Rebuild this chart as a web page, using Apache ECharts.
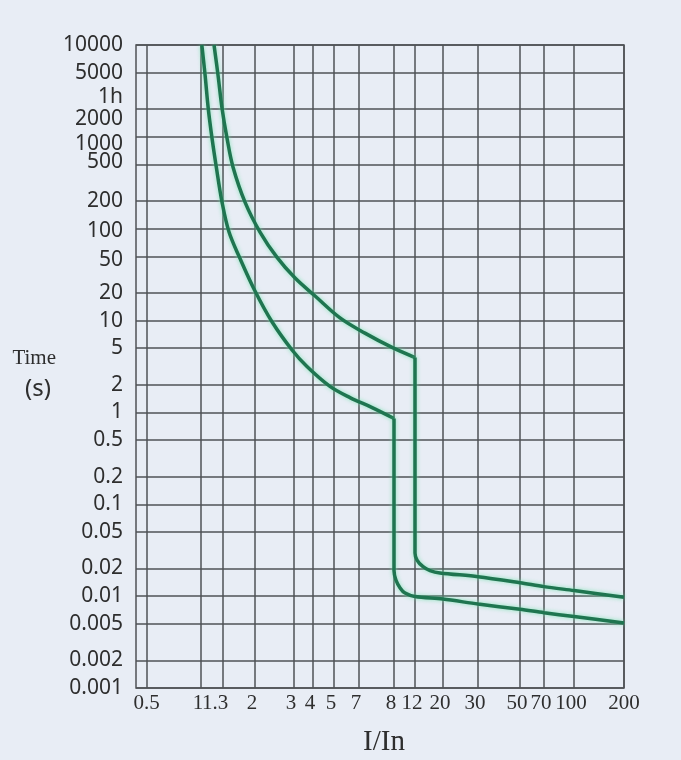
<!DOCTYPE html>
<html>
<head>
<meta charset="utf-8">
<script src="https://cdn.jsdelivr.net/npm/echarts@6/dist/echarts.min.js"></script>
<style>
html,body{margin:0;padding:0;background:#e8edf5;}
#chart{width:681px;height:760px;}
</style>
</head>
<body>
<div id="chart"></div>
<script>
// ---------- data ----------
const xTickValues = [0.5, 1, 1.3, 2, 3, 4, 5, 7, 8, 12, 20, 30, 50, 70, 100, 200];
const xTickLabels = ['0.5', '1', '1.3', '2', '3', '4', '5', '7', '8', '12', '20', '30', '50', '70', '100', '200'];

const yTickValues = [0.001, 0.002, 0.005, 0.01, 0.02, 0.05, 0.1, 0.2, 0.5, 1, 2, 5, 10, 20, 50, 100, 200, 500, 1000, 2000, 5000, 10000];
const yTickLabels = ['0.001', '0.002', '0.005', '0.01', '0.02', '0.05', '0.1', '0.2', '0.5', '1', '2', '5', '10', '20', '50', '100', '200', '500', '1000', '2000', '5000', '10000'];
const hourValue = 3600;
const hourLabel = '1h';

// lower curve (I/In, time in s)
const lowerCurveI = [1.01, 1.05, 1.09, 1.14, 1.20, 1.285, 1.41, 1.63, 2.0, 2.39, 2.94, 3.65, 4.79, 6.2, 7.36, 8.0, 8.0, 8.3, 9.0, 9.9, 12, 20, 30, 50, 70, 100, 200];
const lowerCurveT = [10000, 4700, 2050, 970, 470, 195, 92, 48, 21, 9.65, 4.78, 3.16, 1.92, 1.45, 1.13, 0.86, 0.019, 0.015, 0.0123, 0.0108, 0.0099, 0.0093, 0.0082, 0.0072, 0.0066, 0.006, 0.0051];

// upper curve (I/In, time in s)
const upperCurveI = [1.168, 1.225, 1.285, 1.372, 1.487, 1.748, 2.107, 2.51, 3.05, 4.09, 5.42, 7.16, 7.94, 12, 12, 12.45, 13.89, 15.78, 18.93, 30, 50, 70, 100, 200];
const upperCurveT = [10000, 4700, 2050, 970, 470, 195, 92, 49, 29, 18.5, 10.7, 7.3, 5.1, 3.96, 0.0295, 0.0247, 0.0209, 0.019, 0.0179, 0.0163, 0.014, 0.0127, 0.0115, 0.0097];

// ---------- layout of the irregular I/In scale ----------
const X_AXIS_LEN = 488;
const xTickPos = [10.5, 65, 87, 119, 158, 177, 198, 223, 258, 279, 307, 342, 384, 408, 438, 488];

function xScale(v) {
  const n = xTickValues.length;
  let i = 0;
  while (i < n - 2 && v > xTickValues[i + 1]) i++;
  const a = Math.log(xTickValues[i]), b = Math.log(xTickValues[i + 1]);
  const t = (Math.log(v) - a) / (b - a);
  return xTickPos[i] + t * (xTickPos[i + 1] - xTickPos[i]);
}
function nearestIndex(arr, v, useLog) {
  let best = 0, bd = Infinity;
  arr.forEach((a, i) => {
    const d = useLog ? Math.abs(Math.log(a) - Math.log(v)) : Math.abs(a - v);
    if (d < bd) { bd = d; best = i; }
  });
  return best;
}
// split a curve at its vertical (instantaneous) drop so the curved parts can be smoothed
function splitCurve(I, T) {
  const pts = I.map((v, i) => [xScale(v), T[i]]);
  let k = 0;
  for (let i = 0; i < I.length - 1; i++) { if (I[i] === I[i + 1]) { k = i; break; } }
  return [pts.slice(0, k + 1), pts.slice(k)];
}

const lowerParts = splitCurve(lowerCurveI, lowerCurveT);
const upperParts = splitCurve(upperCurveI, upperCurveT);

// ---------- styles ----------
const gridColor = '#4f5256';
const textColor = '#2e2e2e';
const curveColor = '#1f7550';

const yFont = {fontFamily: 'Noto Sans', fontSize: 21, color: textColor};
const yRich = {
  n: Object.assign({}, yFont),
  h: Object.assign({padding: [23, 0, 0, 0]}, yFont),
  a: Object.assign({padding: [19, 0, 0, 0]}, yFont),
  b: Object.assign({padding: [14, 0, 0, 0]}, yFont),
  c: Object.assign({padding: [5, 0, 0, 0]}, yFont),
  e: Object.assign({padding: [8, 0, 0, 0]}, yFont),
  u: Object.assign({padding: [0, 0, 4, 0]}, yFont)
};
const yStyleKey = {'1h': 'h', '2000': 'a', '1000': 'b', '100': 'c', '50': 'e', '500': 'u'};

const xFont = {fontFamily: 'Liberation Serif', fontSize: 21, color: textColor};
const xRich = {
  n: Object.assign({padding: [0, 6, 0, 0]}, xFont),
  z: Object.assign({}, xFont),
  w: Object.assign({padding: [0, 16, 0, 0]}, xFont)
};
const xStyleKey = {'0.5': 'z', '200': 'z', '1.3': 'w'};

const lineStyle = {color: curveColor, width: 3.5, shadowColor: 'rgba(110,225,170,0.8)', shadowBlur: 4};
function curveSeries(name, data, smooth) {
  return {name: name, type: 'line', data: data, showSymbol: false, symbol: 'none',
          smooth: smooth, lineStyle: lineStyle, z: 3};
}

const chart = echarts.init(document.getElementById('chart'));
chart.setOption({
  backgroundColor: '#e8edf5',
  animation: false,
  grid: {
    left: 136, right: 57, top: 45, bottom: 72,
    show: true, borderColor: gridColor, borderWidth: 1.5,
    containLabel: false, outerBoundsMode: 'none'
  },
  xAxis: {
    type: 'value',
    min: 0, max: X_AXIS_LEN,
    name: 'I/In',
    nameLocation: 'middle',
    nameGap: 40,
    nameTextStyle: {fontFamily: 'Liberation Serif', fontSize: 29, color: textColor, padding: [0, 0, 0, 8]},
    axisLine: {show: false},
    axisTick: {show: false, customValues: xTickPos},
    splitLine: {show: true, lineStyle: {color: gridColor, width: 1.5}},
    axisLabel: {
      customValues: xTickPos,
      margin: 5,
      formatter: function (val) {
        const lab = xTickLabels[nearestIndex(xTickPos, val, false)];
        return '{' + (xStyleKey[lab] || 'n') + '|' + lab + '}';
      },
      rich: xRich
    }
  },
  yAxis: {
    type: 'log',
    logBase: 10,
    min: 0.001, max: 10000,
    name: '{t|Time}\n{s|(s)}',
    nameLocation: 'middle',
    nameRotate: 0,
    nameGap: 80,
    nameTextStyle: {
      rich: {
        t: {fontFamily: 'Liberation Serif', fontSize: 21, color: textColor, lineHeight: 45},
        s: {fontFamily: 'Noto Sans', fontSize: 24, color: textColor, lineHeight: 17, padding: [0, 5, 0, 0]}
      }
    },
    axisLine: {show: false},
    axisTick: {show: false, customValues: yTickValues},
    splitLine: {show: true, lineStyle: {color: gridColor, width: 1.5}},
    minorSplitLine: {show: false},
    axisLabel: {
      customValues: yTickValues.concat([hourValue]),
      margin: 13,
      formatter: function (val) {
        const all = yTickValues.concat([hourValue]);
        const labs = yTickLabels.concat([hourLabel]);
        const lab = labs[nearestIndex(all, val, true)];
        return '{' + (yStyleKey[lab] || 'n') + '|' + lab + '}';
      },
      rich: yRich
    }
  },
  series: [
    curveSeries('lower', lowerParts[0], 0.35),
    curveSeries('lower', lowerParts[1], 0.3),
    curveSeries('upper', upperParts[0], 0.35),
    curveSeries('upper', upperParts[1], 0.3)
  ]
});
</script>
</body>
</html>
